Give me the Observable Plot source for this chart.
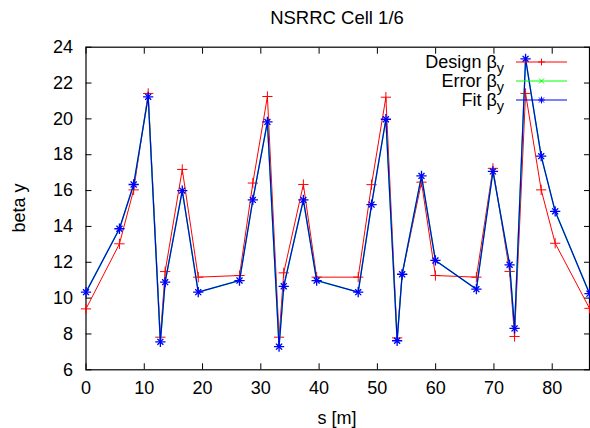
<!DOCTYPE html>
<html>
<head>
<meta charset="utf-8">
<script src="https://cdn.jsdelivr.net/npm/d3@7"></script>
<script src="https://cdn.jsdelivr.net/npm/@observablehq/plot@0.6"></script>
<style>
  html, body { margin: 0; padding: 0; background: #fff; }
</style>
</head>
<body>
<div id="chart"></div>
<script>
// ---- data ----
const sPos = [0, 5.74, 8.18, 10.67, 12.76, 13.58, 16.52, 19.26, 26.34, 28.63, 31.13, 33.13, 33.93, 37.3, 39.58, 46.71, 49.0, 51.46, 53.39, 54.25, 57.57, 59.96, 66.99, 69.83, 72.69, 73.54, 75.43, 78.11, 80.51, 86.4];
const designBeta = [9.40, 13.03, 16.04, 21.42, 7.82, 11.48, 17.18, 11.17, 11.26, 16.42, 21.25, 7.82, 11.41, 16.34, 11.17, 11.17, 16.33, 21.21, 7.78, 11.32, 16.47, 11.26, 11.17, 17.24, 11.49, 7.86, 21.42, 16.04, 13.06, 9.43];
const errorBeta = [10.33, 13.87, 16.34, 21.23, 7.56, 10.89, 16.0, 10.33, 10.98, 15.48, 19.83, 7.29, 10.66, 15.48, 10.98, 10.33, 15.22, 19.98, 7.62, 11.33, 16.82, 12.1, 10.5, 17.07, 11.86, 8.31, 23.35, 17.92, 14.84, 10.25];
const fitBeta = [10.33, 13.87, 16.34, 21.23, 7.56, 10.89, 16.0, 10.33, 10.98, 15.48, 19.83, 7.29, 10.66, 15.48, 10.98, 10.33, 15.22, 19.98, 7.62, 11.33, 16.82, 12.1, 10.5, 17.07, 11.86, 8.31, 23.35, 17.92, 14.84, 10.25];
const xTicks = [0, 10, 20, 30, 40, 50, 60, 70, 80];
const yTicks = [6, 8, 10, 12, 14, 16, 18, 20, 22, 24];
const seriesNames = ["Design", "Error", "Fit"];
const seriesColors = ["#ff0000", "#00ff00", "#0000ff"];
const titleText = "NSRRC Cell 1/6";
const xLabel = "s [m]";
const yLabel = "beta y";

const design = sPos.map((s, i) => ({s, b: designBeta[i]}));
const error = sPos.map((s, i) => ({s, b: errorBeta[i]}));
const fit = sPos.map((s, i) => ({s, b: fitBeta[i]}));

const FONT = "'Liberation Sans', Arial, Helvetica, sans-serif";
const PLUS_R = 3.4, TIMES_R = 2.8;

const chart = Plot.plot({
  width: 590,
  height: 428,
  marginLeft: 85.5,
  marginRight: 1,
  marginTop: 46.7,
  marginBottom: 58.7,
  x: {domain: [0, 86.4]},
  y: {domain: [6, 24]},
  style: {fontFamily: FONT, fontSize: "18px", color: "#000", background: "#fff", overflow: "visible"},
  marks: [
    Plot.axisX(xTicks, {anchor: "bottom", tickSize: 0, tickPadding: 11, label: null}),
    Plot.axisX(xTicks, {anchor: "bottom", tickSize: 6, dy: -6, text: null, label: null, strokeWidth: 1}),
    Plot.axisX(xTicks, {anchor: "top", tickSize: 6, dy: 6, text: null, label: null, strokeWidth: 1}),
    Plot.axisY(yTicks, {anchor: "left", tickSize: 0, tickPadding: 13, label: null}),
    Plot.axisY(yTicks, {anchor: "left", tickSize: 6, dx: 6, text: null, label: null, strokeWidth: 1}),
    Plot.axisY(yTicks, {anchor: "right", tickSize: 6, dx: -6, text: null, label: null, strokeWidth: 1}),
    Plot.frame({stroke: "#000", strokeWidth: 1.2}),
    // Design
    Plot.line(design, {x: "s", y: "b", stroke: seriesColors[0], strokeWidth: 1}),
    Plot.dot(design, {x: "s", y: "b", symbol: "plus", r: PLUS_R, stroke: seriesColors[0], strokeWidth: 1}),
    // Error
    Plot.line(error, {x: "s", y: "b", stroke: seriesColors[1], strokeWidth: 1.4}),
    Plot.dot(error, {x: "s", y: "b", symbol: "times", r: TIMES_R, stroke: seriesColors[1], strokeWidth: 1}),
    // Fit
    Plot.line(fit, {x: "s", y: "b", stroke: seriesColors[2], strokeWidth: 1.2}),
    Plot.dot(fit, {x: "s", y: "b", symbol: "plus", r: PLUS_R, stroke: seriesColors[2], strokeWidth: 1.3}),
    Plot.dot(fit, {x: "s", y: "b", symbol: "times", r: TIMES_R, stroke: seriesColors[2], strokeWidth: 1.3})
  ]
});

document.getElementById("chart").appendChild(chart);

const svg = d3.select(chart);
// title
svg.append("text").attr("x", 337).attr("y", 24).attr("text-anchor", "middle")
  .attr("font-family", FONT).attr("font-size", 18.5).attr("fill", "#000").text(titleText);
// x label
svg.append("text").attr("x", 337).attr("y", 424).attr("text-anchor", "middle")
  .attr("font-family", FONT).attr("font-size", 18).attr("fill", "#000").text(xLabel);
// y label
svg.append("text").attr("transform", "translate(25,208) rotate(-90)").attr("text-anchor", "middle")
  .attr("font-family", FONT).attr("font-size", 18).attr("fill", "#000").text(yLabel);

// legend (markers drawn with the same symbols Plot uses)
const legY = [62, 81, 100];
seriesNames.forEach((name, i) => {
  const g = svg.append("g");
  const t = g.append("text").attr("x", 504).attr("y", legY[i] + 5.5).attr("text-anchor", "end")
    .attr("font-family", FONT).attr("font-size", 18).attr("fill", "#000");
  t.append("tspan").text(name + " \u03b2");
  t.append("tspan").attr("font-size", 14.5).attr("dy", 5).text("y");
  g.append("line").attr("x1", 516).attr("x2", 567).attr("y1", legY[i]).attr("y2", legY[i])
    .attr("stroke", seriesColors[i]).attr("stroke-width", 1);
  const mx = 541.5;
  if (i === 0 || i === 2) {
    g.append("path").attr("d", `M${mx - PLUS_R},${legY[i]}h${2 * PLUS_R}M${mx},${legY[i] - PLUS_R}v${2 * PLUS_R}`)
      .attr("stroke", seriesColors[i]).attr("fill", "none");
  }
  if (i === 1 || i === 2) {
    const h = TIMES_R * 0.9;
    g.append("path").attr("d", `M${mx - h},${legY[i] - h}L${mx + h},${legY[i] + h}M${mx - h},${legY[i] + h}L${mx + h},${legY[i] - h}`)
      .attr("stroke", seriesColors[i]).attr("fill", "none");
  }
});
</script>
</body>
</html>
